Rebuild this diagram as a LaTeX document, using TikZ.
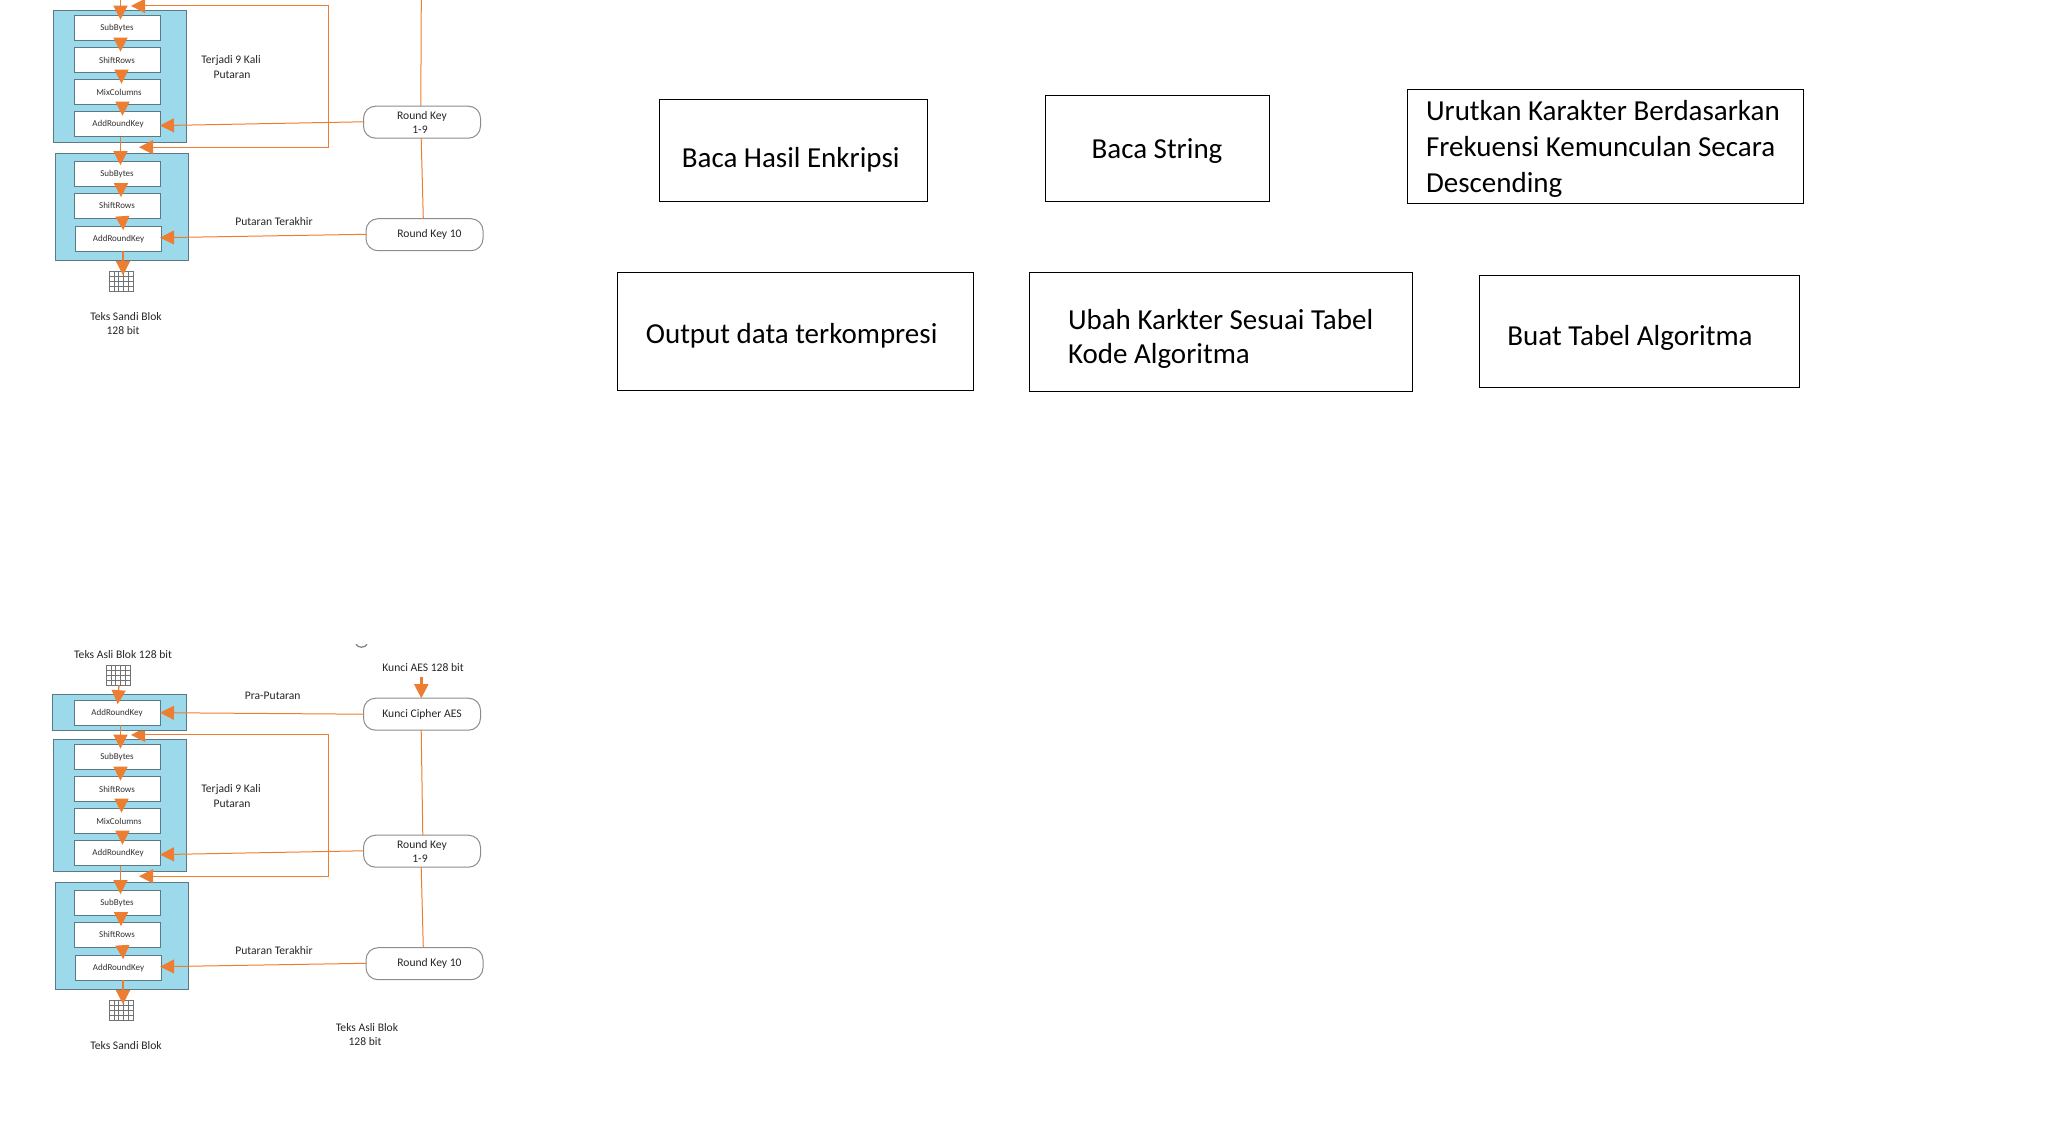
\documentclass[tikz,border=0pt]{standalone}
\usepackage{fontspec}
\usepackage{xcolor}
\setmainfont{Carlito}
\usetikzlibrary{positioning,arrows.meta,calc}

\definecolor{aesorange}{HTML}{ED7D31}
\definecolor{aesblue}{HTML}{9BD9EB}
\definecolor{aesedge}{HTML}{5A7A86}

% one round part of the cipher, drawn twice
\newcommand{\aesrounds}{%
    % Round blocks
    \node[roundblock,minimum width=66.5pt,minimum height=66pt] (ROUND) at (119.5,804) {};
    \node[roundblock,minimum width=66.5pt,minimum height=53.5pt] (LAST) at (121.5,934.5) {};
    % Steps of the nine rounds
    \node[stepbox] (SUB) at (117,756) {SubBytes};
    \node[stepbox] (SHIFT) [below of=SUB] {ShiftRows};
    \node[stepbox] (MIX) [below of=SHIFT] {\hspace*{2pt}MixColumns};
    \node[stepbox] (ADD) [below of=MIX] {\hspace*{1pt}AddRoundKey};
    % Steps of the last round
    \node[stepbox] (LSUB) at (117,901.5) {SubBytes};
    \node[stepbox] (LSHIFT) [below of=LSUB] {ShiftRows};
    \node[stepbox] (LADD) at (118.5,966.5) {AddRoundKey};
    \node[gridbox] (OUT) at (121,1009) {};
    % Keys
    \node[keybox] (KEY) at (422,850) {Round Key\\[-.4pt]\hspace*{-2pt}1-9};
    \node[keybox] (KEYL) at (424.5,962.5) {\hspace*{5pt}Round Key 10};
    % Labels
    \node[smalltext] (NINE) at (231,795) {Terjadi 9 Kali\\\hspace*{1pt}Putaran};
    \node[smalltext] (LASTLBL) at (274,949.3) {Putaran Terakhir};
    % Flow
    \draw[flow] ([xshift=1.75pt]SUB.south) -- ([xshift=1.75pt]SHIFT.north);
    \draw[flow] ([xshift=2.25pt]SHIFT.south) -- ([xshift=2.25pt]MIX.north);
    \draw[flow] ([xshift=2.75pt]MIX.south) -- ([xshift=2.75pt]ADD.north);
    \draw[flow] ([xshift=1.75pt]ADD.south) -- ([xshift=1.75pt]LSUB.north);
    \draw[flow] ([xshift=2pt]LSUB.south) -- ([xshift=2pt]LSHIFT.north);
    \draw[flow] ([xshift=2.75pt]LSHIFT.south) -- ([xshift=2.25pt]LADD.north);
    \draw[flow] ([xshift=2.25pt]LADD.south) -- ([xshift=1pt]OUT.north);
    % Repeat loop
    \coordinate (LOOPT) at (131,733.7);
    \coordinate (LOOPB) at (139,875);
    \coordinate (LOOPR) at (328,733.7);
    \draw[keyline,<->] (LOOPB) -| (LOOPR) -- (LOOPT);
    % Key transitions
    \draw[keyline,->] ([yshift=.2pt]KEY.west) -- ([yshift=-.7pt]ADD.east);
    \draw[keyline,->] ([yshift=.2pt]KEYL.west) -- ([yshift=.5pt,xshift=-.7pt]LADD.east);
    \draw[keyline] ([xshift=-.4pt]KEY.south) -- ([xshift=-.6pt]KEYL.north);
}

\begin{document}
\begin{tikzpicture}[
    x=.5pt,y=-.5pt,
    >={Triangle[length=7pt,width=7pt]},
    node distance=16pt,
    every node/.style={outer sep=0pt},
    smalltext/.style={font=\fontsize{5.8pt}{7.2pt}\selectfont,align=center,text=black!85,inner sep=0pt},
    stepbox/.style={draw=aesedge,line width=.5pt,fill=white,minimum width=43pt,minimum height=12.5pt,inner sep=0pt,font=\fontsize{4.5pt}{5pt}\selectfont,text=black!80},
    roundblock/.style={draw=aesedge,line width=.5pt,fill=aesblue,inner sep=0pt},
    keybox/.style={draw=black!45,line width=.5pt,fill=white,rounded corners=6pt,minimum width=58.5pt,minimum height=16pt,inner sep=0pt,align=center,font=\fontsize{5.8pt}{7.2pt}\selectfont,text=black!85},
    gridbox/.style={draw=black!55,line width=.35pt,minimum width=12pt,minimum height=10pt,inner sep=0pt,path picture={
        \foreach \i in {1,...,4} \draw[black!55,line width=.3pt] ($(path picture bounding box.west)+(2.4pt*\i,5pt)$) -- ++(0pt,-10pt);
        \foreach \j in {1,...,3} \draw[black!55,line width=.3pt] ($(path picture bounding box.north west)+(0pt,-2.5pt*\j)$) -- ++(12pt,0pt);
    }},
    bigbox/.style={draw=black,line width=.55pt,inner sep=0pt},
    bigtext/.style={font=\fontsize{14.5pt}{18pt}\selectfont,inner sep=0pt,align=left},
    flow/.style={draw=aesorange,line width=.65pt,->,shorten >=-2pt},
    keyline/.style={draw=aesorange,line width=.5pt}
]
    \useasboundingbox (0,0) rectangle (2056,1134);

    % Part cut off at the top of the page
    \begin{scope}[yshift=363.9pt,name prefix=T]
        \aesrounds
    \end{scope}
    \node[roundblock,anchor=south,minimum width=67.5pt,minimum height=1pt] (TPRE) at (119.5,0) {};
    \coordinate (TIN) at (120.5,0);
    \coordinate (TKIN) at (421.3,0);
    \draw[flow] (TIN) -- ([xshift=1.75pt]TSUB.north);
    \draw[keyline] (TKIN) -- ([xshift=-.6pt]TKEY.north);
    \node[smalltext] (TOUTLBL) at (126,323.5) {Teks Sandi Blok\\\hspace*{-3pt}128 bit};

    % Complete diagram
    \begin{scope}[yshift=-.6pt]
    \aesrounds
    \node[roundblock,minimum width=67pt,minimum height=18pt] (PRE) at (119,711) {};
    \node[stepbox] (ADD0) at (117,711.5) {AddRoundKey};
    \node[gridbox] (IN) at (118,674) {};
    \node[keybox] (CIPHER) at (422,713) {Kunci Cipher AES};
    \node[smalltext] (INLBL) at (123,653) {Teks Asli Blok 128 bit};
    \node[smalltext] (KEYLBL) at (423,666.7) {Kunci AES 128 bit};
    \node[smalltext] (PRELBL) at (272.7,695) {Pra-Putaran};
    \node[smalltext] (OUTLBL) at (126,1044.3) {Teks Sandi Blok};
    \node[smalltext] (PLAINLBL) at (367,1033.5) {Teks Asli Blok\\\hspace*{-2pt}128 bit};
    \coordinate (KIN) at (421.3,675.7);
    \draw[flow] ([xshift=.5pt]IN.south) -- ([xshift=.5pt]ADD0.north);
    \draw[flow] ([xshift=1.75pt]ADD0.south) -- ([xshift=1.75pt]SUB.north);
    \draw[flow,line width=1.2pt,shorten >=0pt] (KIN) -- (KIN |- CIPHER.north);
    \draw[keyline,->] (CIPHER.west) -- (ADD0.east);
    \draw[keyline] ([xshift=-.4pt]CIPHER.south) -- ([xshift=.4pt]KEY.north);
    \draw[black!50,line width=.6pt] (356,643) .. controls (358,647) and (365,647) .. (367,643);
    \end{scope}

    % Text boxes on the right
    \node[bigbox,minimum width=134pt,minimum height=51pt] (READBOX) at (793.6,150.3) {};
    \node[bigtext] (READ) at (790.7,159.8) {Baca Hasil Enkripsi};
    \node[bigbox,minimum width=112pt,minimum height=53pt] (STRINGBOX) at (1157.5,148.3) {};
    \node[bigtext] (STRING) at (1157,150.8) {Baca String};
    \node[bigbox,minimum width=198pt,minimum height=57pt] (SORTBOX) at (1605.3,146.3) {};
    \node[bigtext,anchor=west] (SORT) at (1426,148.7) {Urutkan Karakter Berdasarkan\\Frekuensi Kemunculan Secara\\Descending};
    \node[bigbox,minimum width=178pt,minimum height=59pt] (OUTPUTBOX) at (795.6,331.3) {};
    \node[bigtext] (OUTPUT) at (791.6,335.8) {Output data terkompresi};
    \node[bigbox,minimum width=191.4pt,minimum height=59.5pt] (CHANGEBOX) at (1220.9,331.8) {};
    \node[bigtext,anchor=west,font=\fontsize{14.5pt}{17.2pt}\selectfont] (CHANGE) at (1068,339) {Ubah Karkter Sesuai Tabel\\Kode Algoritma};
    \node[bigbox,minimum width=160pt,minimum height=56pt] (TABLEBOX) at (1639.3,331.3) {};
    \node[bigtext] (TABLE) at (1630,337.5) {Buat Tabel Algoritma};
\end{tikzpicture}
\end{document}
